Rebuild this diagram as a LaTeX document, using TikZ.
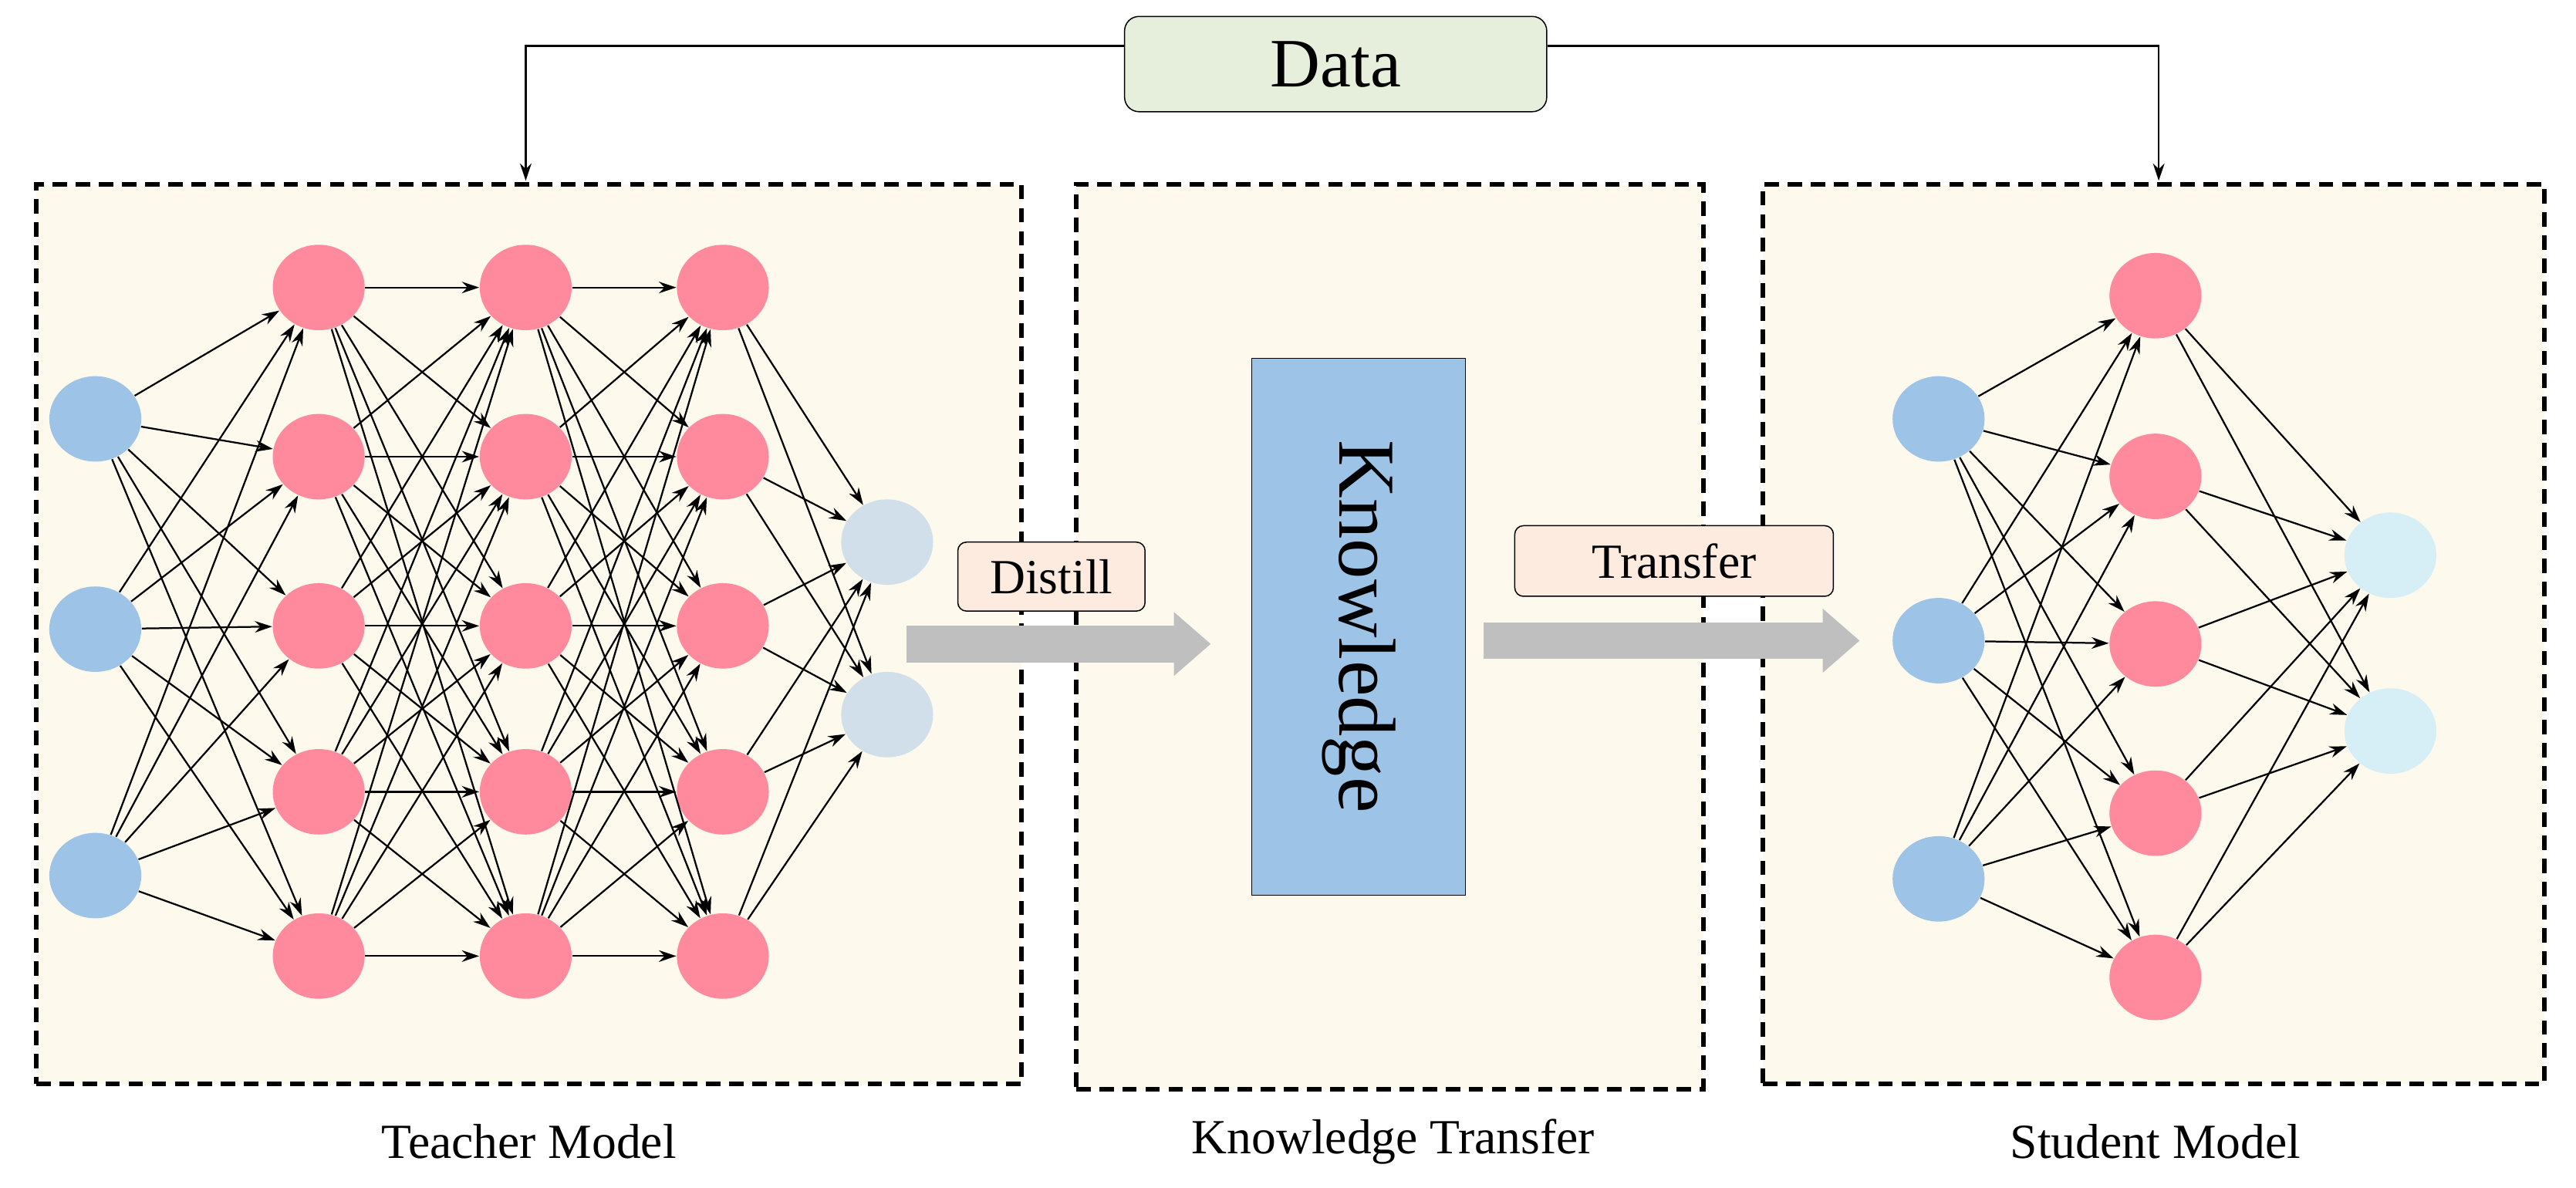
\documentclass[tikz,border=0pt]{standalone}
\usepackage{fontspec}
\setmainfont{Liberation Serif}
\usetikzlibrary{shapes.geometric,arrows.meta}
\definecolor{pinkn}{RGB}{255,138,158}
\definecolor{bluen}{RGB}{157,195,230}
\definecolor{outt}{RGB}{208,223,234}
\definecolor{outs}{RGB}{214,238,246}
\definecolor{boxbg}{RGB}{253,249,236}
\definecolor{datag}{RGB}{230,239,220}
\definecolor{lblbg}{RGB}{253,235,224}
\begin{document}
\begin{tikzpicture}[x=0.02cm,y=-0.02cm,
  nd/.style={ellipse,draw=none,minimum width=1.12cm,minimum height=1.04cm,inner sep=0},
  pane/.style={draw,dashed,line width=1.6pt,fill=boxbg,dash pattern=on 5pt off 3pt},
  ed/.style={-{Stealth[length=6pt,width=4pt]},line width=0.6pt},
  big/.style={line width=0.45cm,color=black!25,-{Triangle[length=0.45cm,width=0.75cm]}},
  lbl/.style={draw,rounded corners=3pt,fill=lblbg,font=\fontsize{17}{17}\selectfont,inner sep=0pt}]
\useasboundingbox (0,0) rectangle (1568,723);
\node[pane,minimum width=12cm,minimum height=10.96cm] (tbox) at (322,386) {};
\node[pane,minimum width=7.64cm,minimum height=11.02cm] (kbox) at (846,387.5) {};
\node[pane,minimum width=9.52cm,minimum height=10.96cm] (sbox) at (1311,386) {};
\node[draw,rounded corners=5pt,fill=datag,minimum width=5.14cm,minimum height=1.16cm,font=\fontsize{24}{24}\selectfont] (data) at (813,39) {Data};
\coordinate (dl) at (320,28); \coordinate (dr) at (1314,28);
\coordinate (dlb) at (320,110); \coordinate (drb) at (1314,110);
\draw[ed] (data.west |- 0,28) -- (dl) -- (dlb);
\draw[ed] (data.east |- 0,28) -- (dr) -- (drb);
% teacher
\foreach \y [count=\i] in {255,383,533} \node[nd,fill=bluen] (ti\i) at (58,\y) {};
\foreach \x [count=\l] in {194,320,440}
  \foreach \y [count=\i] in {175,278,381,482,582} \node[nd,fill=pinkn] (t\l-\i) at (\x,\y) {};
\foreach \y [count=\i] in {330,435} \node[nd,fill=outt] (to\i) at (540,\y) {};
\foreach \a in {1,2,3} \foreach \b in {1,...,5} \draw[ed] (ti\a) -- (t1-\b);
\foreach \a in {1,...,5} \foreach \b in {1,...,5} {\draw[ed] (t1-\a) -- (t2-\b); \draw[ed] (t2-\a) -- (t3-\b);}
\foreach \a in {1,...,5} \foreach \b in {1,2} \draw[ed] (t3-\a) -- (to\b);
% student
\foreach \y [count=\i] in {255,390,535} \node[nd,fill=bluen] (si\i) at (1180,\y) {};
\foreach \y [count=\i] in {180,290,392,495,595} \node[nd,fill=pinkn] (sh\i) at (1312,\y) {};
\foreach \y [count=\i] in {338,445} \node[nd,fill=outs] (so\i) at (1455,\y) {};
\foreach \a in {1,2,3} \foreach \b in {1,...,5} \draw[ed] (si\a) -- (sh\b);
\foreach \a in {1,...,5} \foreach \b in {1,2} \draw[ed] (sh\a) -- (so\b);
% knowledge
\node[draw,fill=bluen,minimum width=2.6cm,minimum height=6.54cm] (kn) at (827,381.5) {};
\node[rotate=-90,font=\fontsize{28}{28}\selectfont] (knt) at (kn) {Knowledge};
\coordinate (a1s) at (552,392); \coordinate (a1e) at (737,392);
\coordinate (a2s) at (903,390); \coordinate (a2e) at (1132,390);
\draw[big] (a1s) -- (a1e);
\draw[big] (a2s) -- (a2e);
\node[lbl,minimum width=2.28cm,minimum height=0.84cm] (dist) at (640,351) {Distill};
\node[lbl,minimum width=3.88cm,minimum height=0.86cm] (trans) at (1019,341.5) {Transfer};
\node[font=\fontsize{17}{17}\selectfont] (lt) at (322,695) {Teacher Model};
\node[font=\fontsize{17}{17}\selectfont] (lk) at (848,695) {Knowledge Transfer};
\node[font=\fontsize{17}{17}\selectfont] (ls) at (1312,695) {Student Model};
\end{tikzpicture}
\end{document}
